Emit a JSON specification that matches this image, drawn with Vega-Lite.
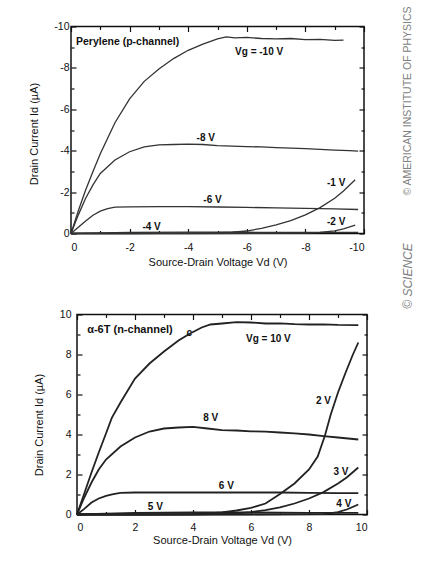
{
  "$schema": "https://vega.github.io/schema/vega-lite/v6.json",
  "background": "white",
  "padding": {"left": 27, "top": 4.5, "right": 5, "bottom": 5},
  "bounds": "flush",
  "spacing": 81,
  "datasets": {
    "topCurves": [
      {"s": "-10", "x": 0, "y": 0}, {"s": "-10", "x": -0.25, "y": -1.1}, {"s": "-10", "x": -0.5, "y": -2.1}, {"s": "-10", "x": -0.75, "y": -3.0}, {"s": "-10", "x": -1, "y": -3.85}, {"s": "-10", "x": -1.25, "y": -4.6}, {"s": "-10", "x": -1.5, "y": -5.35}, {"s": "-10", "x": -2, "y": -6.5}, {"s": "-10", "x": -2.5, "y": -7.35}, {"s": "-10", "x": -3, "y": -7.95}, {"s": "-10", "x": -3.5, "y": -8.45}, {"s": "-10", "x": -4, "y": -8.85}, {"s": "-10", "x": -4.5, "y": -9.15}, {"s": "-10", "x": -5, "y": -9.4}, {"s": "-10", "x": -5.3, "y": -9.5}, {"s": "-10", "x": -5.6, "y": -9.45}, {"s": "-10", "x": -6, "y": -9.47}, {"s": "-10", "x": -6.5, "y": -9.42}, {"s": "-10", "x": -7, "y": -9.4}, {"s": "-10", "x": -7.5, "y": -9.42}, {"s": "-10", "x": -8, "y": -9.37}, {"s": "-10", "x": -8.5, "y": -9.38}, {"s": "-10", "x": -9, "y": -9.33}, {"s": "-10", "x": -9.3, "y": -9.34},
      {"s": "-8", "x": 0, "y": 0}, {"s": "-8", "x": -0.25, "y": -0.9}, {"s": "-8", "x": -0.5, "y": -1.7}, {"s": "-8", "x": -0.75, "y": -2.35}, {"s": "-8", "x": -1, "y": -2.9}, {"s": "-8", "x": -1.5, "y": -3.55}, {"s": "-8", "x": -2, "y": -3.95}, {"s": "-8", "x": -2.5, "y": -4.18}, {"s": "-8", "x": -3, "y": -4.28}, {"s": "-8", "x": -3.5, "y": -4.3}, {"s": "-8", "x": -4, "y": -4.32}, {"s": "-8", "x": -4.5, "y": -4.3}, {"s": "-8", "x": -5, "y": -4.25}, {"s": "-8", "x": -5.5, "y": -4.22}, {"s": "-8", "x": -6, "y": -4.2}, {"s": "-8", "x": -6.5, "y": -4.18}, {"s": "-8", "x": -7, "y": -4.15}, {"s": "-8", "x": -7.5, "y": -4.12}, {"s": "-8", "x": -8, "y": -4.1}, {"s": "-8", "x": -8.5, "y": -4.06}, {"s": "-8", "x": -9, "y": -4.03}, {"s": "-8", "x": -9.5, "y": -4.0}, {"s": "-8", "x": -9.8, "y": -3.98},
      {"s": "-6", "x": 0, "y": 0}, {"s": "-6", "x": -0.25, "y": -0.3}, {"s": "-6", "x": -0.5, "y": -0.6}, {"s": "-6", "x": -0.75, "y": -0.88}, {"s": "-6", "x": -1, "y": -1.08}, {"s": "-6", "x": -1.25, "y": -1.2}, {"s": "-6", "x": -1.5, "y": -1.27}, {"s": "-6", "x": -2, "y": -1.29}, {"s": "-6", "x": -3, "y": -1.3}, {"s": "-6", "x": -4, "y": -1.3}, {"s": "-6", "x": -5, "y": -1.28}, {"s": "-6", "x": -6, "y": -1.26}, {"s": "-6", "x": -7, "y": -1.24}, {"s": "-6", "x": -8, "y": -1.21}, {"s": "-6", "x": -9, "y": -1.19}, {"s": "-6", "x": -9.8, "y": -1.16},
      {"s": "-4", "x": 0, "y": 0}, {"s": "-4", "x": -2, "y": -0.05}, {"s": "-4", "x": -4, "y": -0.07}, {"s": "-4", "x": -6, "y": -0.06}, {"s": "-4", "x": -8, "y": -0.05}, {"s": "-4", "x": -9.8, "y": -0.05},
      {"s": "-1", "x": 0, "y": 0}, {"s": "-1", "x": -2, "y": 0}, {"s": "-1", "x": -4, "y": -0.02}, {"s": "-1", "x": -5, "y": -0.04}, {"s": "-1", "x": -5.5, "y": -0.07}, {"s": "-1", "x": -6, "y": -0.12}, {"s": "-1", "x": -6.5, "y": -0.25}, {"s": "-1", "x": -7, "y": -0.42}, {"s": "-1", "x": -7.5, "y": -0.62}, {"s": "-1", "x": -8, "y": -0.9}, {"s": "-1", "x": -8.5, "y": -1.25}, {"s": "-1", "x": -9, "y": -1.7}, {"s": "-1", "x": -9.3, "y": -2.05}, {"s": "-1", "x": -9.7, "y": -2.6},
      {"s": "-2", "x": 0, "y": 0}, {"s": "-2", "x": -4, "y": 0}, {"s": "-2", "x": -8, "y": -0.02}, {"s": "-2", "x": -8.5, "y": -0.05}, {"s": "-2", "x": -9, "y": -0.13}, {"s": "-2", "x": -9.3, "y": -0.22}, {"s": "-2", "x": -9.7, "y": -0.4}
    ],
    "topLabels": [
      {"t": "Vg = -10 V", "x": -6.42, "y": -8.76},
      {"t": "-8 V", "x": -4.6, "y": -4.59},
      {"t": "-6 V", "x": -4.83, "y": -1.62},
      {"t": "-4 V", "x": -2.75, "y": -0.33},
      {"t": "-1 V", "x": -9.05, "y": -2.44},
      {"t": "-2 V", "x": -9.05, "y": -0.57}
    ],
    "topTitle": [{"t": "Perylene (p-channel)", "x": -0.17, "y": -9.23}],
    "botCurves": [
      {"s": "10", "x": 0, "y": 0}, {"s": "10", "x": 0.25, "y": 1.05}, {"s": "10", "x": 0.5, "y": 2.1}, {"s": "10", "x": 0.75, "y": 3.1}, {"s": "10", "x": 1, "y": 4.05}, {"s": "10", "x": 1.2, "y": 4.83}, {"s": "10", "x": 1.5, "y": 5.6}, {"s": "10", "x": 2, "y": 6.8}, {"s": "10", "x": 2.5, "y": 7.55}, {"s": "10", "x": 3, "y": 8.15}, {"s": "10", "x": 3.5, "y": 8.7}, {"s": "10", "x": 3.9, "y": 9.05}, {"s": "10", "x": 4.3, "y": 9.35}, {"s": "10", "x": 4.6, "y": 9.5}, {"s": "10", "x": 5, "y": 9.55}, {"s": "10", "x": 5.5, "y": 9.62}, {"s": "10", "x": 6, "y": 9.6}, {"s": "10", "x": 6.5, "y": 9.55}, {"s": "10", "x": 7, "y": 9.56}, {"s": "10", "x": 7.5, "y": 9.52}, {"s": "10", "x": 8, "y": 9.5}, {"s": "10", "x": 8.5, "y": 9.51}, {"s": "10", "x": 9, "y": 9.48}, {"s": "10", "x": 9.7, "y": 9.47},
      {"s": "8", "x": 0, "y": 0}, {"s": "8", "x": 0.25, "y": 0.85}, {"s": "8", "x": 0.5, "y": 1.6}, {"s": "8", "x": 0.75, "y": 2.25}, {"s": "8", "x": 1, "y": 2.75}, {"s": "8", "x": 1.5, "y": 3.4}, {"s": "8", "x": 2, "y": 3.85}, {"s": "8", "x": 2.5, "y": 4.15}, {"s": "8", "x": 3, "y": 4.3}, {"s": "8", "x": 3.5, "y": 4.35}, {"s": "8", "x": 4, "y": 4.38}, {"s": "8", "x": 4.5, "y": 4.3}, {"s": "8", "x": 5, "y": 4.22}, {"s": "8", "x": 5.5, "y": 4.2}, {"s": "8", "x": 6, "y": 4.16}, {"s": "8", "x": 6.5, "y": 4.14}, {"s": "8", "x": 7, "y": 4.1}, {"s": "8", "x": 7.5, "y": 4.06}, {"s": "8", "x": 8, "y": 4.0}, {"s": "8", "x": 8.5, "y": 3.92}, {"s": "8", "x": 9, "y": 3.85}, {"s": "8", "x": 9.7, "y": 3.75},
      {"s": "6", "x": 0, "y": 0}, {"s": "6", "x": 0.25, "y": 0.28}, {"s": "6", "x": 0.5, "y": 0.6}, {"s": "6", "x": 0.75, "y": 0.8}, {"s": "6", "x": 1, "y": 0.93}, {"s": "6", "x": 1.25, "y": 1.02}, {"s": "6", "x": 1.5, "y": 1.08}, {"s": "6", "x": 2, "y": 1.1}, {"s": "6", "x": 3, "y": 1.1}, {"s": "6", "x": 4, "y": 1.1}, {"s": "6", "x": 5, "y": 1.1}, {"s": "6", "x": 6, "y": 1.1}, {"s": "6", "x": 7, "y": 1.1}, {"s": "6", "x": 8, "y": 1.08}, {"s": "6", "x": 9, "y": 1.07}, {"s": "6", "x": 9.7, "y": 1.07},
      {"s": "5", "x": 0, "y": 0}, {"s": "5", "x": 2, "y": 0.08}, {"s": "5", "x": 4, "y": 0.1}, {"s": "5", "x": 6, "y": 0.1}, {"s": "5", "x": 8, "y": 0.08}, {"s": "5", "x": 9.7, "y": 0.08},
      {"s": "2", "x": 0, "y": 0}, {"s": "2", "x": 2, "y": 0}, {"s": "2", "x": 4, "y": 0.02}, {"s": "2", "x": 4.5, "y": 0.05}, {"s": "2", "x": 5, "y": 0.1}, {"s": "2", "x": 5.5, "y": 0.2}, {"s": "2", "x": 6, "y": 0.33}, {"s": "2", "x": 6.5, "y": 0.55}, {"s": "2", "x": 7, "y": 1.02}, {"s": "2", "x": 7.5, "y": 1.55}, {"s": "2", "x": 8, "y": 2.25}, {"s": "2", "x": 8.3, "y": 2.9}, {"s": "2", "x": 8.55, "y": 3.95}, {"s": "2", "x": 8.75, "y": 5.0}, {"s": "2", "x": 9, "y": 6.1}, {"s": "2", "x": 9.25, "y": 7.05}, {"s": "2", "x": 9.5, "y": 7.95}, {"s": "2", "x": 9.7, "y": 8.6},
      {"s": "3", "x": 0, "y": 0}, {"s": "3", "x": 4, "y": 0}, {"s": "3", "x": 5, "y": 0.03}, {"s": "3", "x": 5.5, "y": 0.06}, {"s": "3", "x": 6, "y": 0.12}, {"s": "3", "x": 6.5, "y": 0.22}, {"s": "3", "x": 7, "y": 0.36}, {"s": "3", "x": 7.5, "y": 0.55}, {"s": "3", "x": 8, "y": 0.8}, {"s": "3", "x": 8.5, "y": 1.12}, {"s": "3", "x": 9, "y": 1.55}, {"s": "3", "x": 9.3, "y": 1.85}, {"s": "3", "x": 9.7, "y": 2.35},
      {"s": "4", "x": 0, "y": 0}, {"s": "4", "x": 6, "y": 0}, {"s": "4", "x": 8.5, "y": 0.02}, {"s": "4", "x": 9, "y": 0.12}, {"s": "4", "x": 9.3, "y": 0.25}, {"s": "4", "x": 9.7, "y": 0.5}
    ],
    "botLabels": [
      {"t": "Vg = 10 V", "x": 6.6, "y": 8.8},
      {"t": "8 V", "x": 4.61, "y": 4.85},
      {"t": "6 V", "x": 5.15, "y": 1.43},
      {"t": "5 V", "x": 2.7, "y": 0.36},
      {"t": "2 V", "x": 8.5, "y": 5.7},
      {"t": "3 V", "x": 9.1, "y": 2.15},
      {"t": "4 V", "x": 9.2, "y": 0.55},
      {"t": "c", "x": 3.87, "y": 9.1}
    ],
    "botTitle": [{"t": "α-6T (n-channel)", "x": 0.35, "y": 9.25}],
    "empty": []
  },
  "vconcat": [
    {
      "width": 293,
      "height": 207,
      "resolve": {"axis": {"x": "independent", "y": "independent"}},
      "layer": [
        {
          "data": {"name": "topCurves"},
          "mark": {"type": "line", "color": "#333333", "strokeWidth": 1.3},
          "encoding": {
            "x": {"field": "x", "type": "quantitative", "scale": {"domain": [0, -10], "nice": false},
              "axis": {"orient": "bottom", "values": [0, -1, -2, -3, -4, -5, -6, -7, -8, -9, -10],
                "labelExpr": "datum.value % 2 == 0 ? '' + datum.value : ''",
                "tickSize": {"condition": {"test": "datum.value % 2 == 0", "value": -5}, "value": -3},
                "labelPadding": 14, "title": "Source-Drain Voltage Vd (V)", "titleY": 29, "titleBaseline": "middle"}},
            "y": {"field": "y", "type": "quantitative", "scale": {"domain": [0, -10], "nice": false},
              "axis": {"orient": "left", "values": [0, -1, -2, -3, -4, -5, -6, -7, -8, -9, -10],
                "labelExpr": "datum.value % 2 == 0 ? '' + datum.value : ''",
                "tickSize": {"condition": {"test": "datum.value % 2 == 0", "value": -5}, "value": -3},
                "labelPadding": 7, "title": "Drain Current Id (µA)", "titleX": -37, "titleY": 107, "titleAngle": -90, "titleAlign": "center", "titleBaseline": "middle"}},
            "detail": {"field": "s", "type": "nominal"}
          }
        },
        {
          "data": {"name": "topLabels"},
          "mark": {"type": "text", "fontWeight": "bold", "fontSize": 10, "font": "Liberation Sans", "color": "#111"},
          "encoding": {
            "x": {"field": "x", "type": "quantitative", "scale": {"domain": [0, -10], "nice": false},
              "axis": {"orient": "top", "values": [0, -1, -2, -3, -4, -5, -6, -7, -8, -9, -10], "labels": false,
                "tickSize": {"condition": {"test": "datum.value % 2 == 0", "value": -5}, "value": -3}, "title": null}},
            "y": {"field": "y", "type": "quantitative", "scale": {"domain": [0, -10], "nice": false},
              "axis": {"orient": "right", "values": [0, -1, -2, -3, -4, -5, -6, -7, -8, -9, -10], "labels": false,
                "tickSize": {"condition": {"test": "datum.value % 2 == 0", "value": -5}, "value": -3},
                "title": "© AMERICAN INSTITUTE OF PHYSICS", "titleX": 43, "titleY": 74, "titleAngle": -90,
                "titleAlign": "center", "titleBaseline": "middle", "titleFontSize": 10.5, "titleColor": "#808080"}},
            "text": {"field": "t"}
          }
        },
        {
          "data": {"name": "topTitle"},
          "mark": {"type": "text", "fontWeight": "bold", "fontSize": 10.5, "align": "left", "font": "Liberation Sans", "color": "#111"},
          "encoding": {
            "x": {"field": "x", "type": "quantitative", "scale": {"domain": [0, -10], "nice": false}, "axis": null},
            "y": {"field": "y", "type": "quantitative", "scale": {"domain": [0, -10], "nice": false}, "axis": null},
            "text": {"field": "t"}
          }
        }
      ]
    },
    {
      "bounds": "flush",
      "spacing": 0,
      "hconcat": [
        {
          "width": 6,
          "height": 200,
          "view": {"stroke": null, "fill": null},
          "data": {"name": "empty"},
          "mark": {"type": "point", "opacity": 0},
          "encoding": {}
        },
        {
          "width": 290,
          "height": 200,
          "resolve": {"axis": {"x": "independent", "y": "independent"}},
          "layer": [
            {
              "data": {"name": "botCurves"},
              "mark": {"type": "line", "color": "#222222", "strokeWidth": 1.8},
              "encoding": {
                "x": {"field": "x", "type": "quantitative", "scale": {"domain": [0, 10], "nice": false, "zero": false},
                  "axis": {"orient": "bottom", "values": [0, 1, 2, 3, 4, 5, 6, 7, 8, 9, 10],
                    "labelExpr": "datum.value % 2 == 0 ? '' + datum.value : ''",
                    "tickSize": {"condition": {"test": "datum.value % 2 == 0", "value": -5}, "value": -3},
                    "labelPadding": 12.5, "title": "Source-Drain Voltage Vd (V)", "titleY": 26, "titleBaseline": "middle"}},
                "y": {"field": "y", "type": "quantitative", "scale": {"domain": [0, 10], "nice": false},
                  "axis": {"orient": "left", "values": [0, 1, 2, 3, 4, 5, 6, 7, 8, 9, 10],
                    "labelExpr": "datum.value % 2 == 0 ? '' + datum.value : ''",
                    "tickSize": {"condition": {"test": "datum.value % 2 == 0", "value": -5}, "value": -3},
                    "labelPadding": 11, "title": "Drain Current Id (µA)", "titleX": -38, "titleY": 110, "titleAngle": -90, "titleAlign": "center", "titleBaseline": "middle"}},
                "detail": {"field": "s", "type": "nominal"}
              }
            },
            {
              "data": {"name": "botLabels"},
              "mark": {"type": "text", "fontWeight": "bold", "fontSize": 10, "font": "Liberation Sans", "color": "#111"},
              "encoding": {
                "x": {"field": "x", "type": "quantitative", "scale": {"domain": [0, 10], "nice": false, "zero": false},
                  "axis": {"orient": "top", "values": [0, 1, 2, 3, 4, 5, 6, 7, 8, 9, 10], "labels": false,
                    "tickSize": {"condition": {"test": "datum.value % 2 == 0", "value": -5}, "value": -3}, "title": null}},
                "y": {"field": "y", "type": "quantitative", "scale": {"domain": [0, 10], "nice": false},
                  "axis": {"orient": "right", "values": [0, 1, 2, 3, 4, 5, 6, 7, 8, 9, 10], "labels": false,
                    "tickSize": {"condition": {"test": "datum.value % 2 == 0", "value": -5}, "value": -3},
                    "title": "© SCIENCE", "titleX": 40, "titleY": -39, "titleAngle": -90,
                    "titleAlign": "center", "titleBaseline": "middle", "titleFontSize": 12, "titleFontStyle": "italic", "titleColor": "#808080"}},
                "text": {"field": "t"}
              }
            },
            {
              "data": {"name": "botTitle"},
              "mark": {"type": "text", "fontWeight": "bold", "fontSize": 11, "align": "left", "font": "Liberation Sans", "color": "#111"},
              "encoding": {
                "x": {"field": "x", "type": "quantitative", "scale": {"domain": [0, 10], "nice": false, "zero": false}, "axis": null},
                "y": {"field": "y", "type": "quantitative", "scale": {"domain": [0, 10], "nice": false}, "axis": null},
                "text": {"field": "t"}
              }
            }
          ]
        }
      ]
    }
  ],
  "config": {
    "font": "Liberation Sans",
    "view": {"stroke": "#111111", "strokeWidth": 1.5, "fill": "white"},
    "axis": {
      "domain": false, "grid": false,
      "labelFont": "Liberation Sans", "labelFontSize": 10.5, "labelColor": "#111111",
      "titleFont": "Liberation Sans", "titleFontSize": 11, "titleFontWeight": "normal", "titleColor": "#111111",
      "tickColor": "#111111", "tickWidth": 1.2
    }
  }
}
